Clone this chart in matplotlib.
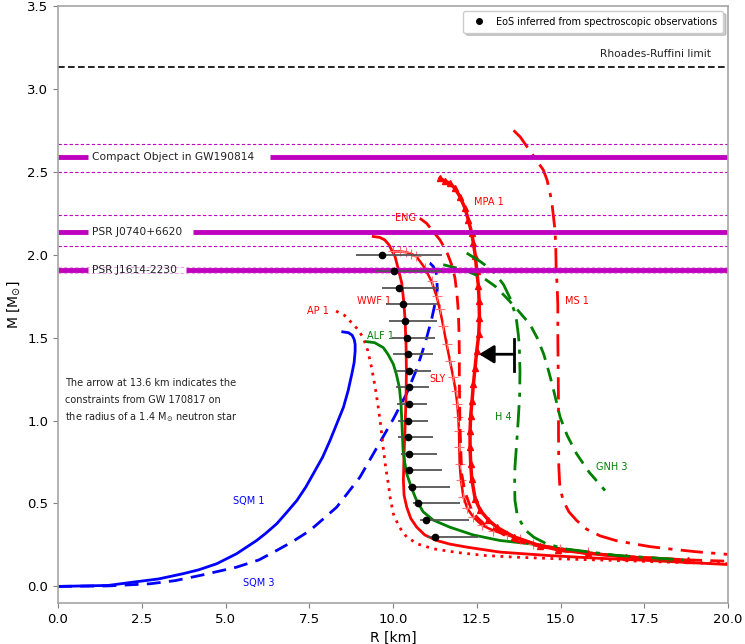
import matplotlib
matplotlib.use("Agg")
import matplotlib.pyplot as plt
from matplotlib.lines import Line2D
import numpy as np

# ---------------- data ----------------
sqm1_R = [0.0, 1.5, 2.25, 3.0, 3.74, 4.2, 4.74, 5.33, 5.93, 6.2, 6.53, 6.8, 7.13, 7.4, 7.62, 7.9, 8.12, 8.3, 8.52, 8.66, 8.77, 8.84, 8.87, 8.87, 8.84, 8.78, 8.67, 8.5]
sqm1_M = [0.0, 0.006, 0.026, 0.045, 0.077, 0.10, 0.137, 0.197, 0.277, 0.32, 0.378, 0.44, 0.518, 0.60, 0.679, 0.78, 0.88, 0.97, 1.08, 1.18, 1.28, 1.35, 1.42, 1.46, 1.49, 1.515, 1.53, 1.535]

sqm3_R = [0.0, 1.5, 2.75, 3.5, 4.24, 5.33, 6.0, 6.53, 7.0, 7.52, 8.32, 9.01, 9.61, 10.01, 10.4, 10.7, 10.95, 11.15, 11.27, 11.32, 11.31, 11.28, 11.2, 11.1, 11.0, 10.86]
sqm3_M = [0.0, 0.003, 0.016, 0.035, 0.066, 0.116, 0.16, 0.217, 0.27, 0.337, 0.478, 0.658, 0.869, 1.01, 1.16, 1.307, 1.46, 1.608, 1.72, 1.79, 1.86, 1.90, 1.93, 1.95, 1.957, 1.96]

ap1_R = [8.3, 8.55, 8.72, 8.95, 9.11, 9.25, 9.36, 9.47, 9.56, 9.64, 9.70, 9.78, 9.86, 9.92, 10.01, 10.18, 10.41, 10.75, 11.2, 11.9, 12.7, 13.59, 15.0, 16.58, 18.3, 20.0]
ap1_M = [1.66, 1.635, 1.60, 1.55, 1.50, 1.42, 1.32, 1.20, 1.08, 0.96, 0.85, 0.72, 0.62, 0.53, 0.438, 0.36, 0.297, 0.255, 0.227, 0.205, 0.187, 0.177, 0.166, 0.157, 0.146, 0.137]

wwf1_R = [9.41, 9.6, 9.75, 9.88, 9.98, 10.06, 10.15, 10.26, 10.32, 10.36, 10.39, 10.40, 10.39, 10.36, 10.33, 10.31, 10.33, 10.41, 10.53, 10.71, 10.95, 11.3, 11.7, 12.2, 13.19, 14.59, 16.0, 17.57, 20.0]
wwf1_M = [2.11, 2.105, 2.09, 2.06, 2.02, 1.99, 1.92, 1.83, 1.72, 1.61, 1.45, 1.30, 1.15, 0.95, 0.80, 0.64, 0.55, 0.478, 0.41, 0.357, 0.31, 0.277, 0.255, 0.237, 0.207, 0.187, 0.171, 0.157, 0.132]

alf1_R = [9.21, 9.45, 9.71, 9.85, 10.01, 10.1, 10.19, 10.24, 10.26, 10.28, 10.30, 10.35, 10.41, 10.56, 10.7, 10.9, 11.2, 11.7, 12.4, 13.19, 14.09, 15.0, 16.08, 17.2, 18.3]
alf1_M = [1.476, 1.47, 1.44, 1.40, 1.34, 1.28, 1.20, 1.10, 1.01, 0.92, 0.82, 0.75, 0.679, 0.59, 0.52, 0.45, 0.40, 0.357, 0.31, 0.277, 0.257, 0.228, 0.197, 0.175, 0.157]

sly_R = [10.0, 10.2, 10.4, 10.55, 10.7, 10.95, 11.15, 11.3, 11.4, 11.5, 11.6, 11.7, 11.8, 11.87, 11.92, 11.95, 11.97, 11.98, 11.99, 12.03, 12.1, 12.22, 12.4, 12.65, 12.99, 13.4, 13.79, 14.19, 14.99, 15.83]
sly_M = [2.02, 2.02, 2.015, 2.005, 1.99, 1.92, 1.84, 1.75, 1.67, 1.57, 1.46, 1.36, 1.26, 1.18, 1.10, 1.02, 0.94, 0.84, 0.74, 0.64, 0.54, 0.47, 0.418, 0.37, 0.337, 0.31, 0.287, 0.257, 0.227, 0.207]

eng_R = [10.8, 11.0, 11.2, 11.4, 11.6, 11.75, 11.85, 11.91, 11.95, 11.97, 11.98, 11.98, 11.99, 12.0, 12.02, 12.05, 12.12, 12.2, 12.33, 12.5, 12.75, 13.1, 13.6, 14.3, 15.0, 16.0, 17.0, 18.8, 20.0]
eng_M = [2.22, 2.19, 2.14, 2.09, 2.02, 1.94, 1.86, 1.76, 1.66, 1.53, 1.40, 1.25, 1.10, 0.97, 0.85, 0.68, 0.60, 0.54, 0.47, 0.418, 0.37, 0.337, 0.277, 0.245, 0.215, 0.195, 0.18, 0.16, 0.152]

mpa1_R = [11.4, 11.55, 11.7, 11.85, 12.0, 12.15, 12.25, 12.35, 12.4, 12.46, 12.5, 12.55, 12.57, 12.58, 12.56, 12.5, 12.45, 12.4, 12.36, 12.32, 12.3, 12.3, 12.32, 12.35, 12.45, 12.6, 12.85, 13.1, 13.6, 14.39, 14.93, 15.83, 16.97, 18.8]
mpa1_M = [2.46, 2.445, 2.43, 2.40, 2.35, 2.28, 2.21, 2.13, 2.07, 1.99, 1.90, 1.81, 1.72, 1.62, 1.52, 1.42, 1.32, 1.22, 1.12, 1.03, 0.94, 0.84, 0.74, 0.65, 0.53, 0.46, 0.40, 0.357, 0.30, 0.245, 0.221, 0.20, 0.177, 0.157]

ms1_R = [13.6, 13.8, 13.97, 14.25, 14.49, 14.6, 14.69, 14.75, 14.79, 14.84, 14.86, 14.87, 14.9, 14.92, 14.92, 14.93, 14.94, 14.94, 14.95, 14.98, 15.08, 15.25, 15.48, 15.78, 16.18, 16.68, 17.67, 18.17, 19.0, 20.0]
ms1_M = [2.75, 2.71, 2.66, 2.58, 2.51, 2.45, 2.37, 2.30, 2.23, 2.14, 2.03, 1.92, 1.81, 1.70, 1.51, 1.32, 1.10, 0.91, 0.72, 0.60, 0.518, 0.45, 0.398, 0.345, 0.305, 0.275, 0.24, 0.228, 0.21, 0.193]

h4_R = [12.2, 12.6, 13.0, 13.3, 13.49, 13.62, 13.69, 13.74, 13.77, 13.79, 13.78, 13.74, 13.69, 13.64, 13.63, 13.64, 13.7, 13.79, 13.95, 14.2, 14.6, 15.18, 16.68, 18.66]
h4_M = [2.01, 1.96, 1.90, 1.82, 1.74, 1.66, 1.60, 1.52, 1.45, 1.30, 1.15, 1.01, 0.86, 0.72, 0.62, 0.52, 0.44, 0.398, 0.34, 0.297, 0.255, 0.225, 0.187, 0.16]

gnh3_R = [11.5, 12.1, 12.7, 13.05, 13.39, 13.75, 14.09, 14.3, 14.5, 14.63, 14.75, 14.87, 14.99, 15.2, 15.48, 15.85, 16.33]
gnh3_M = [1.94, 1.91, 1.86, 1.81, 1.74, 1.66, 1.58, 1.50, 1.40, 1.31, 1.22, 1.12, 1.02, 0.91, 0.80, 0.69, 0.578]

# EoS inferred from spectroscopic observations
obs_M = [2.0, 1.9, 1.8, 1.7, 1.6, 1.5, 1.4, 1.3, 1.2, 1.1, 1.0, 0.9, 0.8, 0.7, 0.6, 0.5, 0.4, 0.3]
obs_R = [9.66, 10.04, 10.19, 10.29, 10.36, 10.41, 10.45, 10.47, 10.47, 10.47, 10.45, 10.45, 10.47, 10.49, 10.57, 10.74, 10.99, 11.26]
obs_R_lo = [8.9, 9.46, 9.66, 9.79, 9.89, 9.96, 10.01, 10.06, 10.09, 10.13, 10.16, 10.16, 10.23, 10.36, 10.46, 10.61, 10.81, 11.0]
obs_R_hi = [11.45, 11.42, 11.38, 11.35, 11.32, 11.25, 11.18, 11.12, 11.08, 11.0, 11.03, 11.18, 11.32, 11.47, 11.70, 12.0, 12.27, 12.55]

# mass limits: name, central value, upper, lower
limit_names = ["Compact Object in GW190814", "PSR J0740+6620", "PSR J1614-2230"]
limit_M = [2.59, 2.14, 1.908]
limit_hi = [2.67, 2.24, 1.924]
limit_lo = [2.50, 2.054, 1.892]
rr_limit = 3.13

# ---------------- figure ----------------
fig = plt.figure(figsize=(7.45, 6.44), dpi=100)
ax = fig.add_axes([58/745, 1-603/644, 670/745, 597/644])

lw = 2.0
dashed = (0, (5, 3))
dashdot = (0, (8, 3, 1.5, 3))
ax.plot(sqm1_R, sqm1_M, color='blue', lw=lw, ls='-')
ax.plot(sqm3_R, sqm3_M, color='blue', lw=lw, ls=dashed)
ax.plot(ap1_R, ap1_M, color='red', lw=lw, ls=(0, (1, 2)))
ax.plot(wwf1_R, wwf1_M, color='red', lw=lw, ls='-')
ax.plot(alf1_R, alf1_M, color='green', lw=lw, ls='-')
ax.plot(sly_R, sly_M, color='red', lw=1.8, ls='-', marker='+', ms=7, mew=0.8,
        mec='#ff7070')
ax.plot(eng_R, eng_M, color='red', lw=lw, ls=dashed)
ax.plot(mpa1_R, mpa1_M, color='red', lw=2.5, ls='-', marker='^', ms=4)
ax.plot(ms1_R, ms1_M, color='red', lw=lw, ls=dashdot)
ax.plot(h4_R, h4_M, color='green', lw=lw, ls=dashdot)
ax.plot(gnh3_R, gnh3_M, color='green', lw=lw, ls=dashed)

# curve labels
lab_fs = 7
ax.text(5.23, 0.518, "SQM 1", color='blue', fontsize=lab_fs, va='center')
ax.text(5.51, 0.02, "SQM 3", color='blue', fontsize=lab_fs, va='center')
ax.text(7.42, 1.663, "AP 1", color='red', fontsize=lab_fs, va='center')
ax.text(8.92, 1.72, "WWF 1", color='red', fontsize=lab_fs, va='center')
ax.text(9.21, 1.51, "ALF 1", color='green', fontsize=lab_fs, va='center')
ax.text(11.1, 1.253, "SLY", color='red', fontsize=lab_fs, va='center')
ax.text(10.06, 2.22, "ENG", color='red', fontsize=lab_fs, va='center')
ax.text(12.42, 2.32, "MPA 1", color='red', fontsize=lab_fs, va='center')
ax.text(15.13, 1.72, "MS 1", color='red', fontsize=lab_fs, va='center')
ax.text(13.04, 1.02, "H 4", color='green', fontsize=lab_fs, va='center')
ax.text(16.05, 0.72, "GNH 3", color='green', fontsize=lab_fs, va='center')

# observational points
R = np.array(obs_R)
xerr = [R - np.array(obs_R_lo), np.array(obs_R_hi) - R]
ax.errorbar(obs_R, obs_M, xerr=xerr, fmt='o', color='black', ecolor='#555555',
            elinewidth=1.3, ms=4.5, capsize=0, zorder=5)

# mass limits
resume_x = [6.33, 4.04, 3.82]
for name, m, hi, lo, rx in zip(limit_names, limit_M, limit_hi, limit_lo, resume_x):
    alpha = 0.35 if hi - lo < 0.05 else 1.0
    ax.axhline(hi, color='m', lw=0.8, ls=(0, (3, 2)), alpha=alpha)
    ax.axhline(lo, color='m', lw=0.8, ls=(0, (3, 2)), alpha=alpha)
    ax.hlines(m, 0, 0.9, color='m', lw=3.5)
    ax.hlines(m, rx, 20, color='m', lw=3.5)
    ax.text(1.0, m, name, fontsize=7.7, va='center', ha='left', color='#222222')

ax.axhline(rr_limit, color='black', lw=1.2, ls=(0, (4, 2)))
ax.text(19.5, 3.21, "Rhoades-Ruffini limit", fontsize=7.7, ha='right', va='center', color='#222222')

# GW170817 arrow
ax.plot([13.62, 13.62], [1.30, 1.49], color='black', lw=2)
ax.annotate('', xy=(12.57, 1.40), xytext=(13.62, 1.40),
            arrowprops=dict(arrowstyle='-|>,head_length=0.9,head_width=0.55',
                            color='black', lw=2, shrinkA=0, shrinkB=0))

ax.text(0.2, 1.229, "The arrow at 13.6 km indicates the", fontsize=7, va='center', color='#222222')
ax.text(0.2, 1.127, "constraints from GW 170817 on", fontsize=7, va='center', color='#222222')
ax.text(0.2, 1.024, r"the radius of a 1.4 M$_{\odot}$ neutron star", fontsize=7, va='center', color='#222222')

# legend
h = Line2D([], [], color='black', marker='o', ls='none', ms=4)
ax.legend([h], ["EoS inferred from spectroscopic observations"], loc='upper right',
          fontsize=7, frameon=True, fancybox=True, shadow={'alpha': 0.25}, borderpad=0.6)

ax.set_xlim(0, 20)
ax.set_ylim(-0.1, 3.5)
ax.set_xlabel("R [km]", fontsize=10)
ax.set_ylabel(r"M [M$_{\odot}$]", fontsize=10)
ax.tick_params(labelsize=9.5, color='0.5')
for s in ax.spines.values():
    s.set_color('0.65')
    s.set_linewidth(1.2)

fig.savefig("out.png", dpi=100)
